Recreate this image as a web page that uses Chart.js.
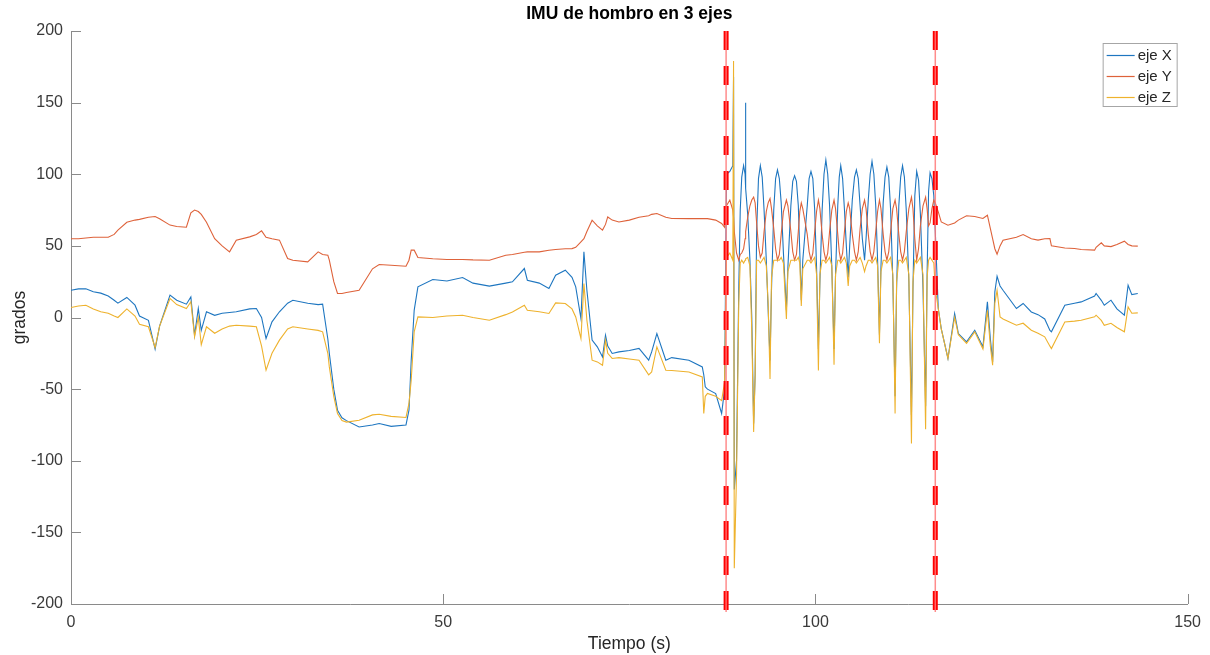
<!DOCTYPE html>
<html lang="es">
<head>
<meta charset="UTF-8">
<title>IMU de hombro en 3 ejes</title>
<script src="https://cdn.jsdelivr.net/npm/chart.js"></script>
<style>
  html, body { margin: 0; padding: 0; background: #fff; }
  #marco { width: 1210px; height: 655px; position: relative; }
</style>
</head>
<body>
<div id="marco"><canvas id="grafico"></canvas></div>
<script>
// tiempo (s) y grados de cada eje
const tiempo = [
  0, 1, 2, 3, 4, 5, 5.8, 6.3, 7.5, 8.6,
  9.2, 10.4, 11.3, 11.9, 13.3, 14.2, 15.5, 16.1, 16.6, 17.1,
  17.5, 18.2, 19.3, 20.3, 21.3, 22.2, 24, 24.9, 25.6, 26.2,
  27, 28, 29.1, 29.8, 31.8, 33.2, 33.8, 34.5, 34.7, 35.3,
  35.8, 36.4, 37, 38.7, 40.5, 41.4, 43, 45, 45.4, 45.7,
  46.1, 46.6, 48.6, 50.5, 52.6, 54, 56.2, 58.4, 59.3, 60.9,
  61.3, 62.9, 64.2, 65.1, 66.4, 67.3, 67.8, 68.5, 68.9, 69.3,
  70, 70.7, 71.4, 71.8, 72.1, 72.7, 73.6, 75, 76.3, 77.6,
  78, 78.7, 79.9, 80.7, 83, 84.8, 85, 85.2, 85.5, 86.6,
  87.4, 87.8,
  // tramo de movimiento periodico
  88.05, 88.5, 88.9, 89.0, 89.1, 89.4, 89.7, 89.9, 90.1, 90.35,
  90.55, 90.6, 90.65, 90.9, 91.2, 91.45, 91.7, 91.9, 92.1, 92.35,
  92.6, 92.85, 93.1, 93.4, 93.65, 93.9, 94.1, 94.4, 94.65, 94.9,
  95.15, 95.4, 95.7, 96.1, 96.3, 96.7, 96.95, 97.2, 97.45, 97.7,
  97.9, 98.1, 98.3, 98.9, 99.15, 99.4, 99.65, 99.9, 100.15, 100.4,
  100.6, 100.9, 101.15, 101.4, 101.65, 101.9, 102.2, 102.5, 102.7, 103.0,
  103.2, 103.4, 103.65, 103.9, 104.15, 104.4, 104.6, 104.95, 105.25, 105.5,
  105.75, 106.0, 106.3, 106.6, 106.8, 107.1, 107.35, 107.6, 107.85, 108.1,
  108.35, 108.6, 108.8, 109.1, 109.35, 109.6, 109.85, 110.1, 110.4, 110.7,
  110.9, 111.2, 111.45, 111.7, 111.95, 112.2, 112.55, 112.9, 113.1, 113.35,
  113.6, 113.85, 114.1, 114.45, 114.8, 115.0, 115.2, 115.4, 115.65, 115.9,
  116.1,
  // despues de la segunda linea
  116.5, 116.9, 117.8, 118.7, 119.2, 120.3, 121.4, 122.5, 123.1, 123.5,
  123.8, 124.1, 124.4, 124.8, 125.2, 127, 127.9, 129, 129.9, 130.8,
  131.5, 131.7, 133.5, 134.8, 135.7, 137.5, 137.7, 138.4, 138.8, 139.7,
  140.5, 141.5, 142, 142.5, 143.3
];
const ejeX = [
  19, 20, 20, 18, 17, 15, 12, 10, 14, 8.6,
  1, -2, -22, -6, 15.6, 12, 9.3, 14.4, -12.4, 6.3,
  -9, 4, 1.5, 3, 3.5, 4, 6, 6.3, 0, -14.7,
  -3, 4, 10, 12, 10, 9, 9.3, -15, -25, -50,
  -64.7, -70, -72, -76.4, -75, -74, -76, -75, -64.7, -30,
  5, 21.4, 26.5, 25.5, 27.9, 24, 21.9, 24, 24.9, 34.2,
  26, 24, 20.2, 29.5, 33, 28, 21.4, -0.7, 45.8, 19,
  -15.8, -20.5, -27.5, -12.4, -20, -25.1, -24, -23, -21.6, -29.8,
  -24, -11.2, -29.8, -28, -29.8, -34.5, -40, -48.4, -50, -53.1,
  -67, -50,
  100, 102, 106, 168, -120, -100, 20, 75, 98, 106,
  100, 150, 90, 72, 40, 0, -74, -40, 60, 97,
  106, 98, 75, 40, 5, -30, 20, 75, 97, 103,
  97, 80, 45, 5, 35, 78, 95, 99, 95, 78,
  45, 12, 40, 78, 97, 102, 97, 75, 35, -22,
  25, 75, 100, 110, 100, 78, 35, -22, 30, 78,
  98, 106, 97, 75, 50, 28, 50, 82, 98, 103,
  97, 78, 55, 40, 55, 82, 100, 109, 100, 78,
  40, -12, 35, 80, 98, 105, 98, 75, 25, -55,
  20, 78, 98, 106, 98, 75, 25, -68, 20, 85,
  102, 96, 72, 20, -62, 30, 88, 101, 97, 85,
  60,
  6.3, -7.7, -28.6, 2.8, -11.2, -17, -8.9, -20.5, 10.9, -15,
  -31, 17.9, 28.8, 22, 19, 6.3, 9.8, 3.9, 2, -1,
  -9, -10, 8.6, 10, 10.9, 15, 16.8, 12, 8.6, 12.1,
  6, 1.6, 22.5, 16, 16.8
];
const ejeY = [
  55, 55, 55.5, 56, 56, 56, 58, 61, 66.5, 68,
  68.5, 70, 70.5, 69, 64.5, 63.5, 63, 73, 75, 74,
  72, 66.5, 55, 50, 45.8, 54, 56.3, 58, 60.5, 56,
  55, 54, 41.2, 40, 38.8, 45.8, 44, 43.5, 40, 25,
  16.8, 16.8, 17.5, 19, 34, 37, 36.5, 35.8, 40, 47,
  47, 41.9, 41, 40.5, 40.5, 40.2, 40, 43.5, 44, 45.5,
  45.8, 45.8, 47, 47.5, 48, 48.1, 49, 52.8, 55, 60,
  67.9, 64, 61, 65, 70.2, 68, 66.7, 68, 70, 71,
  72, 72.6, 70, 69.1, 69, 69.1, 69, 69.1, 69, 68,
  65.6, 63,
  78, 82, 75, 70, 60, 45, 40, 44, 45, 48,
  55, 58, 60, 70, 78, 82, 84, 80, 66, 50,
  42, 45, 60, 74, 80, 83, 76, 62, 48, 40,
  44, 58, 74, 82, 78, 60, 46, 40, 44, 60,
  74, 80, 76, 58, 46, 40, 45, 60, 74, 82,
  76, 58, 46, 40, 45, 60, 75, 82, 76, 58,
  46, 40, 45, 60, 74, 80, 76, 58, 46, 40,
  46, 62, 76, 82, 76, 58, 46, 40, 46, 60,
  74, 82, 76, 58, 46, 40, 46, 60, 76, 82,
  76, 58, 46, 40, 46, 60, 76, 84, 76, 55,
  40, 48, 64, 78, 84, 76, 64, 66, 76, 82,
  80,
  73.7, 66.7, 64.4, 66, 68, 71, 70.5, 69.1, 71.4, 62,
  55, 48, 44.2, 50, 54, 56, 57.9, 55, 54, 55,
  55.1, 50, 48.5, 48.2, 47.5, 47, 49, 52.1, 50, 49.5,
  51, 53.3, 51, 50, 49.8
];
const ejeZ = [
  7, 8, 8.5, 6, 4, 3, 1, 0, 6, 1,
  -4.7, -6.5, -21, -6, 13.3, 9, 6.3, 11, -13.5, 0,
  -19, -6.5, -11, -8, -6, -5.4, -6, -6.5, -20, -36.8,
  -25, -15.8, -8, -6.5, -8, -9, -10, -25, -34.5, -55,
  -67, -72, -73, -71.7, -68, -67.5, -69, -69.8, -60, -43.8,
  -10, 0.4, 0, 1, 1.6, 0, -1.9, 2, 3.9, 8.6,
  5, 4, 2.8, 10.2, 9.8, 6, 0.4, -14.7, 23.7, -1.9,
  -29.8, -31, -33.3, -15.8, -25, -28.6, -28, -29, -29.8, -40,
  -38, -20.5, -36.8, -37, -38, -41.5, -67, -55, -53, -55,
  -58, -45,
  42, 45, 40, 179, -175, -110, 10, 38, 40, 38,
  40, 40, 41, 42, 36, -10, -80, -40, 40, 40,
  38, 40, 42, 36, 10, -43, 28, 40, 40, 40,
  40, 42, 38, -1, 32, 40, 40, 40, 40, 42,
  38, 8, 34, 40, 40, 38, 40, 42, 30, -37,
  30, 40, 40, 38, 40, 42, 36, -33, 30, 40,
  40, 38, 40, 42, 38, 22, 36, 40, 40, 38,
  40, 42, 38, 32, 36, 40, 40, 38, 40, 42,
  36, -18, 32, 40, 40, 38, 40, 42, 30, -67,
  25, 40, 40, 38, 40, 42, 30, -88, 25, 40,
  38, 40, 42, 30, -78, 28, 40, 42, 40, 38,
  20,
  6.3, -8, -28.6, 0, -12, -18, -10, -22, 5, -20,
  -33.3, 10, 19, 0.4, -1, -5.4, -4, -8.9, -11, -13.5,
  -20, -21.7, -3.1, -2.5, -1.9, 0.5, 1.6, -2, -5.4, -4,
  -7, -10, 7.4, 3, 3.2
];
const nombresSeries = ['eje X', 'eje Y', 'eje Z'];
const ticksX = [0, 50, 100, 150];
const ticksY = [-200, -150, -100, -50, 0, 50, 100, 150, 200];
// lineas rojas discontinuas: instantes y extremos verticales
const cortes = [88.0, 116.1];
const extremosCorte = [200, -205.6];

const coloresSeries = ['rgb(30,118,192)', 'rgb(222,98,58)', 'rgb(238,178,45)'];
const colorEje = '#8a8a8a';
const colorTexto = '#3a3a3a';
Chart.defaults.font.family = '"Liberation Sans", Arial, sans-serif';

if (tiempo.length !== ejeX.length || tiempo.length !== ejeY.length || tiempo.length !== ejeZ.length) {
  console.error('longitudes distintas', tiempo.length, ejeX.length, ejeY.length, ejeZ.length);
}

function serie(valores) {
  return tiempo.map((t, i) => ({ x: t, y: valores[i] }));
}

const datasets = [ejeX, ejeY, ejeZ].map((valores, i) => ({
  label: nombresSeries[i],
  data: serie(valores),
  borderColor: coloresSeries[i],
  borderWidth: 1.1,
  pointRadius: 0,
  tension: 0,
  order: 3 - i
}));

cortes.forEach(c => {
  const puntos = extremosCorte.map(v => ({ x: c, y: v }));
  datasets.push({
    label: 'fondo corte',
    data: puntos,
    borderColor: 'rgba(255,120,120,0.85)',
    borderWidth: 1.5,
    pointRadius: 0,
    clip: false,
    order: 0
  });
  datasets.push({
    label: 'corte',
    data: puntos,
    borderColor: '#ff0000',
    borderWidth: 5,
    borderDash: [19, 16],
    pointRadius: 0,
    clip: false,
    order: 0
  });
});

// marcas de los ejes hacia dentro, como en MATLAB
const marcasHaciaDentro = {
  id: 'marcasHaciaDentro',
  beforeDatasetsDraw(chart) {
    const { ctx, scales: { x, y } } = chart;
    ctx.save();
    ctx.strokeStyle = colorEje;
    ctx.lineWidth = 1;
    ctx.beginPath();
    x.ticks.forEach(t => {
      const px = Math.round(x.getPixelForValue(t.value)) + 0.5;
      ctx.moveTo(px, y.bottom);
      ctx.lineTo(px, y.bottom - 10);
    });
    y.ticks.forEach(t => {
      const py = Math.round(y.getPixelForValue(t.value)) + 0.5;
      ctx.moveTo(x.left, py);
      ctx.lineTo(x.left + 10, py);
    });
    ctx.stroke();
    ctx.restore();
  }
};

const leyendaCaja = {
  id: 'leyendaCaja',
  afterDraw(chart) {
    const { ctx, chartArea } = chart;
    const ancho = 74, alto = 63;
    const x0 = chartArea.right - 11 - ancho;
    const y0 = chartArea.top + 12;
    ctx.save();
    ctx.fillStyle = '#fff';
    ctx.fillRect(x0, y0, ancho, alto);
    ctx.strokeStyle = '#a6a6a6';
    ctx.lineWidth = 1;
    ctx.strokeRect(x0 + 0.5, y0 + 0.5, ancho, alto);
    ctx.font = '15px "Liberation Sans", Arial, sans-serif';
    ctx.textBaseline = 'middle';
    ctx.fillStyle = '#262626';
    nombresSeries.forEach((nombre, i) => {
      const yy = y0 + 12.5 + i * 21;
      ctx.strokeStyle = coloresSeries[i];
      ctx.lineWidth = 1.2;
      ctx.beginPath();
      ctx.moveTo(x0 + 4, yy);
      ctx.lineTo(x0 + 32, yy);
      ctx.stroke();
      ctx.fillText(nombre, x0 + 35, yy);
    });
    ctx.restore();
  }
};

new Chart(document.getElementById('grafico'), {
  type: 'line',
  data: { datasets },
  plugins: [marcasHaciaDentro, leyendaCaja],
  options: {
    responsive: true,
    maintainAspectRatio: false,
    animation: false,
    layout: { padding: { left: 0, right: 20, top: 0, bottom: 0 } },
    plugins: {
      legend: { display: false },
      tooltip: { enabled: false },
      title: { display: false }
    },
    scales: {
      x: {
        type: 'linear',
        position: 'bottom',
        min: 0,
        max: 150,
        afterBuildTicks: s => { s.ticks = ticksX.map(v => ({ value: v })); },
        afterFit: s => { s.height = 51; },
        grid: { display: false, drawTicks: false },
        border: { display: true, color: colorEje, width: 1 },
        ticks: { color: colorTexto, font: { size: 16 }, padding: 9, maxRotation: 0 },
        title: {
          display: true,
          text: 'Tiempo (s)',
          color: '#262626',
          font: { size: 17.5 },
          padding: { top: 0, bottom: 0 }
        }
      },
      titulo: {
        type: 'linear',
        position: 'top',
        min: 0,
        max: 150,
        afterFit: s => { s.height = 31; },
        grid: { display: false, drawTicks: false },
        border: { display: false },
        ticks: { display: false },
        title: {
          display: true,
          text: 'IMU de hombro en 3 ejes',
          color: '#000',
          font: { size: 17.5, weight: 'bold' },
          padding: { top: 3.5, bottom: 0 }
        }
      },
      y: {
        type: 'linear',
        min: -200,
        max: 200,
        afterBuildTicks: s => { s.ticks = ticksY.map(v => ({ value: v })); },
        afterFit: s => { s.width = 71; },
        grid: { display: false, drawTicks: false },
        border: { display: true, color: colorEje, width: 1 },
        ticks: { color: colorTexto, font: { size: 16 }, padding: 8 },
        title: {
          display: true,
          text: 'grados',
          color: '#262626',
          font: { size: 17.5 },
          padding: { top: 9.5, bottom: 0 }
        }
      }
    }
  }
});
</script>
</body>
</html>
